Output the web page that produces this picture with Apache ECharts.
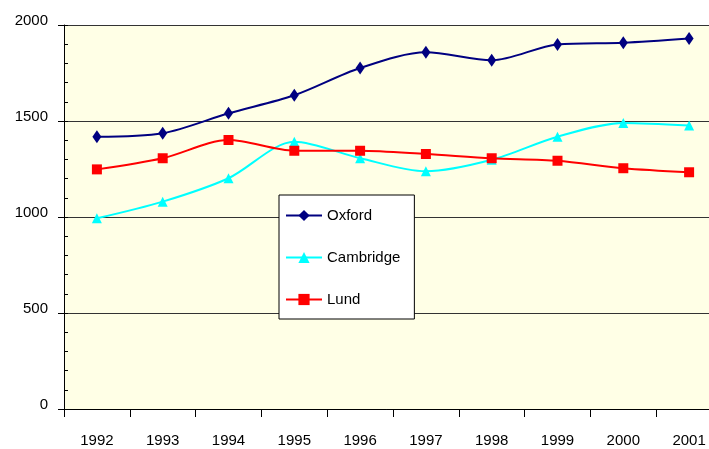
<!DOCTYPE html>
<html>
<head>
<meta charset="utf-8">
<script src="https://cdn.jsdelivr.net/npm/echarts@6/dist/echarts.min.js"></script>
<style>html,body{margin:0;padding:0;background:#fff;}#c{width:709px;height:449px;}</style>
</head>
<body>
<div id="c"></div>
<script>
var years = ['1992','1993','1994','1995','1996','1997','1998','1999','2000','2001'];
var oxford = [1418, 1436, 1540, 1634, 1776, 1858, 1816, 1899, 1908, 1930];
var cambridge = [993, 1080, 1202, 1392, 1306, 1238, 1298, 1418, 1490, 1476];
var lund = [1248, 1306, 1401, 1345, 1345, 1328, 1306, 1293, 1254, 1233];
var yTicks = {min: 0, max: 2000, step: 500};

var font = 'Liberation Sans, Arial, sans-serif';
var chart = echarts.init(document.getElementById('c'), null, {renderer: 'canvas'});
function ser(name, data, color, symbol, size, yIdx) {
  return {
    name: name, type: 'line', data: data, smooth: 0.3, yAxisIndex: yIdx,
    symbol: symbol, symbolSize: size, showSymbol: true,
    lineStyle: {color: color, width: 2},
    itemStyle: {color: color},
    emphasis: {disabled: true},
    animation: false
  };
}
chart.setOption({
  animation: false,
  grid: {left: 64, top: 25, width: 658, bottom: 40, show: true, backgroundColor: '#FFFFE6', borderWidth: 0,
    containLabel: false, outerBoundsMode: 'none'},
  legend: {
    orient: 'vertical', left: 279, top: 195,
    backgroundColor: '#fff', borderColor: '#000', borderWidth: 1,
    padding: [13, 14, 12, 6], itemWidth: 36, itemHeight: 14, itemGap: 27,
    textStyle: {fontFamily: font, fontSize: 15, color: '#000'},
    data: ['Oxford', 'Cambridge', 'Lund']
  },
  xAxis: {
    type: 'category', data: years, boundaryGap: true,
    axisLine: {lineStyle: {color: '#000', width: 1}},
    axisTick: {show: true, length: 8, alignWithLabel: false, lineStyle: {color: '#000'}},
    axisLabel: {fontFamily: font, fontSize: 15, color: '#000', margin: 24}
  },
  yAxis: [{
    type: 'value', min: yTicks.min, max: yTicks.max, interval: yTicks.step,
    axisLine: {show: true, lineStyle: {color: '#000', width: 1}},
    axisTick: {show: true, length: 6, lineStyle: {color: '#000'}},
    axisLabel: {fontFamily: font, fontSize: 15, color: '#000', margin: 16, verticalAlign: 'bottom', lineHeight: 9,
      formatter: function (v) { return String(v); }},
    splitLine: {show: true, lineStyle: {color: '#333', width: 1}}
  }, {
    type: 'value', min: yTicks.min, max: yTicks.max, interval: yTicks.step, position: 'right', offset: -658,
    axisLine: {show: false},
    axisTick: {show: true, length: 4, lineStyle: {color: '#000'}},
    minorTick: {show: true, splitNumber: 5, length: 4, lineStyle: {color: '#000'}},
    axisLabel: {show: false},
    splitLine: {show: false}
  }],
  series: [
    ser('Oxford', oxford, '#000080', 'diamond', [9, 13], 0),
    ser('Cambridge', cambridge, '#00FFFF', 'triangle', [10, 10], 1),
    ser('Lund', lund, '#FF0000', 'rect', [10, 10], 0)
  ]
});
</script>
</body>
</html>
